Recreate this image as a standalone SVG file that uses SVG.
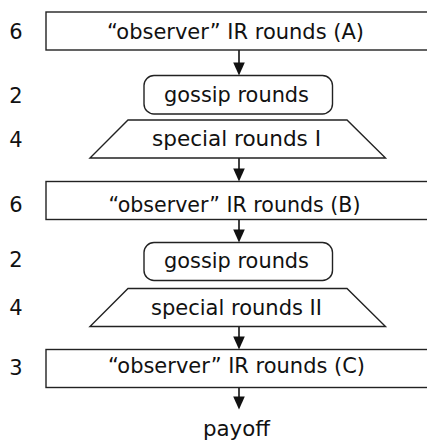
<svg xmlns="http://www.w3.org/2000/svg" width="427" height="444" viewBox="0 0 427 444">
  <defs>
    <style>
      .box { fill: #ffffff; stroke: #222222; stroke-width: 1.4; }
      .edge { stroke: #111111; stroke-width: 1.6; fill: none; }
      .head { fill: #111111; stroke: none; }
      text { font-family: "Century Gothic", "DejaVu Sans", sans-serif; font-size: 21px; fill: #111111; }
      .lbl { text-anchor: middle; }
      .num { text-anchor: middle; }
    </style>
    <marker id="arr" viewBox="0 0 12 13" refX="6" refY="13" markerWidth="12" markerHeight="13" markerUnits="userSpaceOnUse" orient="auto-start-reverse">
      <path d="M0,0 L12,0 L6,13 Z" class="head"/>
    </marker>
  </defs>
  <rect width="427" height="444" fill="#ffffff"/>

  <g id="connectors">
    <line class="edge" x1="239" y1="50" x2="239" y2="63"/>
    <path class="head" d="M233.2,62.5 L244.8,62.5 L239,75.5 Z"/>
    <line class="edge" x1="239" y1="158" x2="239" y2="169"/>
    <path class="head" d="M233.2,168.5 L244.8,168.5 L239,181.5 Z"/>
    <line class="edge" x1="239" y1="219.5" x2="239" y2="230"/>
    <path class="head" d="M233.2,229.5 L244.8,229.5 L239,242.5 Z"/>
    <line class="edge" x1="239" y1="326.5" x2="239" y2="337"/>
    <path class="head" d="M233.2,336.5 L244.8,336.5 L239,349.5 Z"/>
    <line class="edge" x1="239" y1="387.5" x2="239" y2="397"/>
    <path class="head" d="M233.2,396.5 L244.8,396.5 L239,409.5 Z"/>
  </g>

  <g id="observerA">
    <rect class="box" x="46" y="12" width="386" height="38"/>
    <text class="lbl" x="235.5" y="39" textLength="257" lengthAdjust="spacingAndGlyphs">“observer” IR rounds (A)</text>
    <text class="num" x="16" y="39">6</text>
  </g>

  <g id="gossip1">
    <rect class="box" x="144" y="75.5" width="188.5" height="38.5" rx="10" ry="10"/>
    <text class="lbl" x="236.5" y="102" textLength="145" lengthAdjust="spacingAndGlyphs">gossip rounds</text>
    <text class="num" x="16" y="103">2</text>
  </g>

  <g id="special1">
    <polygon class="box" points="128,120 347,120 385.5,158 90,158"/>
    <text class="lbl" x="236.5" y="146" textLength="169" lengthAdjust="spacingAndGlyphs">special rounds I</text>
    <text class="num" x="16" y="146.5">4</text>
  </g>

  <g id="observerB">
    <rect class="box" x="46" y="181.5" width="386" height="38"/>
    <text class="lbl" x="234.5" y="211.5" textLength="252" lengthAdjust="spacingAndGlyphs">“observer” IR rounds (B)</text>
    <text class="num" x="16" y="211.5">6</text>
  </g>

  <g id="gossip2">
    <rect class="box" x="144" y="242.5" width="188.5" height="38" rx="10" ry="10"/>
    <text class="lbl" x="236.5" y="268" textLength="145" lengthAdjust="spacingAndGlyphs">gossip rounds</text>
    <text class="num" x="16" y="267">2</text>
  </g>

  <g id="special2">
    <polygon class="box" points="128,288.5 347,288.5 385.5,326.5 90,326.5"/>
    <text class="lbl" x="236.5" y="315" textLength="171" lengthAdjust="spacingAndGlyphs">special rounds II</text>
    <text class="num" x="16" y="315">4</text>
  </g>

  <g id="observerC">
    <rect class="box" x="46" y="349.5" width="386" height="38"/>
    <text class="lbl" x="236.5" y="373" textLength="257" lengthAdjust="spacingAndGlyphs">“observer” IR rounds (C)</text>
    <text class="num" x="16" y="375">3</text>
  </g>

  <g id="payoff">
    <text class="lbl" x="236.5" y="436" textLength="67" lengthAdjust="spacingAndGlyphs">payoff</text>
  </g>
</svg>
